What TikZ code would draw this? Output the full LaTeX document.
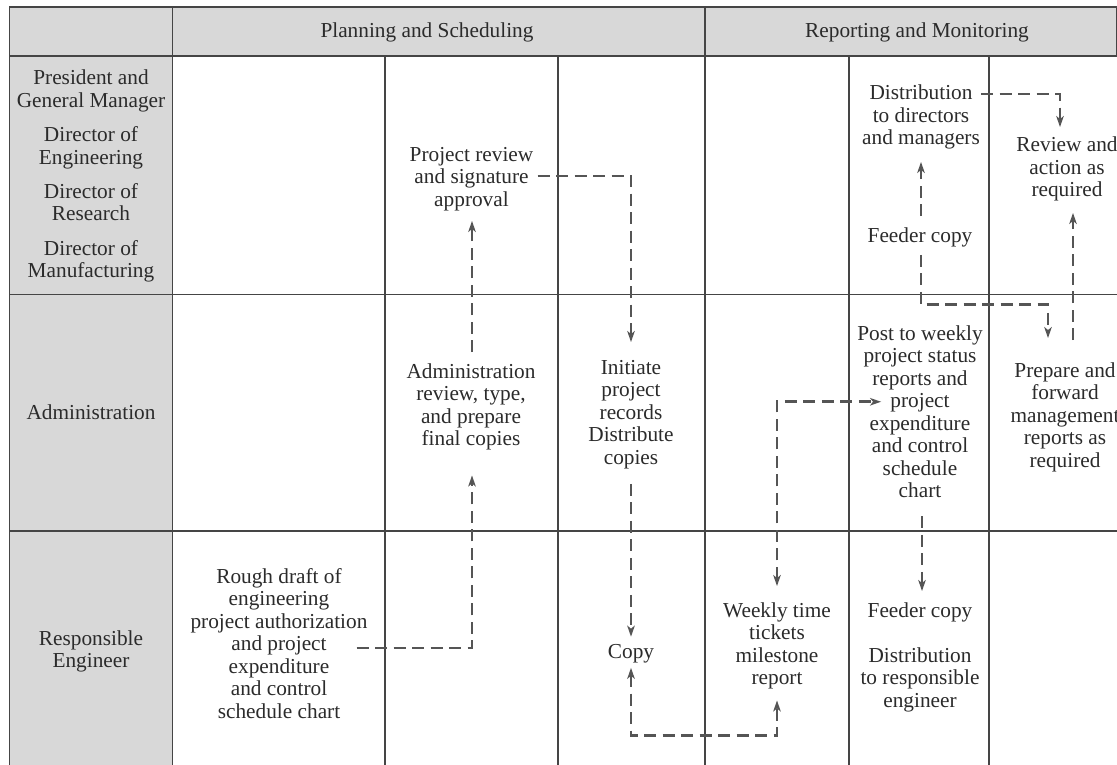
\documentclass[tikz,border=0pt]{standalone}
\usepackage{fontspec}
\setmainfont{Liberation Serif}
\usetikzlibrary{arrows.meta}
\definecolor{gfill}{HTML}{D8D8D8}
\definecolor{lcol}{HTML}{454545}
\definecolor{acol}{HTML}{555555}
\definecolor{tcol}{HTML}{2B2B2B}
\newcommand{\ml}[1]{\begin{tabular}[t]{@{}c@{}}#1\end{tabular}}
\begin{document}
\begin{tikzpicture}[x=1pt,y=-1pt,
  txt/.style={inner sep=0pt, anchor=base, text=tcol, font=\fontsize{21.3}{22.5}\selectfont},
  grid/.style={draw=lcol, line width=1.8pt},
  flow/.style={draw=acol, line width=2.9pt, dash pattern=on 12pt off 6.5pt,
    -{Stealth[length=11pt,width=7.5pt,inset=3pt]}},
  flowboth/.style={flow, {Stealth[length=11pt,width=7.5pt,inset=3pt]}-{Stealth[length=11pt,width=7.5pt,inset=3pt]}}]
\useasboundingbox (0,0) rectangle (1117,765);
\clip (0,0) rectangle (1117,765);
% fills
\fill[white] (0,0) rectangle (1117,765);
\fill[gfill] (9.5,7) rectangle (1116.5,56);
\fill[gfill] (9.5,56) rectangle (172.5,780);
% grid
\draw[grid] (9.5,780) -- (9.5,7) -- (1116.5,7) -- (1116.5,56);
\draw[grid] (9.5,56) -- (1130,56);
\draw[grid] (9.5,294.5) -- (1130,294.5);
\draw[grid] (9.5,531) -- (1130,531);
\draw[grid] (172.5,7) -- (172.5,780);
\draw[grid] (705,7) -- (705,780);
\foreach \cx in {385,558,849,989} \draw[grid] (\cx,56) -- (\cx,780);
% headers
\node[txt] (hp) at (427,38) {Planning and Scheduling};
\node[txt] (hr) at (917,38) {Reporting and Monitoring};
% row labels
\node[txt] (ra) at (91,85) {\ml{President and\\General Manager\\[11.7pt]Director of\\Engineering\\[11.7pt]Director of\\Research\\[11.7pt]Director of\\Manufacturing}};
\node[txt] (rb) at (91,419) {Administration};
\node[txt] (rc) at (91,645) {\ml{Responsible\\Engineer}};
% body texts
\node[txt] (prj) at (471.5,161) {\ml{Project review\\and signature\\approval}};
\node[txt] (dist) at (921,100) {\ml{Distribution\\to directors\\and managers}};
\node[txt] (rev) at (1067,152) {\ml{Review and\\action as\\required}};
\node[txt] (feedA) at (920,242) {Feeder copy};
\node[txt] (adm) at (471,378) {\ml{Administration\\review, type,\\and prepare\\final copies}};
\node[txt] (ini) at (631,374) {\ml{Initiate\\project\\records\\Distribute\\copies}};
\node[txt] (post) at (920,340) {\ml{Post to weekly\\project status\\reports and\\project\\expenditure\\and control\\schedule\\chart}};
\node[txt] (prep) at (1065,377) {\ml{Prepare and\\forward\\management\\reports as\\required}};
\node[txt] (rough) at (279,583) {\ml{Rough draft of\\engineering\\project authorization\\and project\\expenditure\\and control\\schedule chart}};
\node[txt] (copy) at (631,658) {Copy};
\node[txt] (week) at (777,617) {\ml{Weekly time\\tickets\\milestone\\report}};
\node[txt] (feedC) at (920,617) {Feeder copy};
\node[txt] (distC) at (920,662) {\ml{Distribution\\to responsible\\engineer}};
% connectors
\draw[flow] ([shift={(-11,2)}]rough.east) -| ([shift={(1,23)}]adm.south);
\draw[flow] ([shift={(1,-10)}]adm.north) -- ([shift={(1,8)}]adm.north |- prj.south);
\draw[flow] ([shift={(4,-3)}]prj.east) -| ([shift={(0,-16)}]ini.north);
\draw[flow] ([shift={(0,13)}]ini.south) -- ([shift={(0,-7)}]copy.north);
\draw[flowboth] ([shift={(0,5)}]copy.south) -- ++(0,68) -| ([shift={(0,9)}]week.south);
\draw[flowboth] ([shift={(0,-15)}]week.north) |- ([shift={(24,-12.5)}]post.west);
\draw[flow] ([shift={(2,12)}]post.south) -- ([shift={(2,-11)}]feedC.north);
\draw[flow] ([shift={(1,-11)}]feedA.north) -- ([shift={(1,10)}]feedA.north |- dist.south);
\draw[flow] ([shift={(1,8)}]feedA.south) -- ++(0,50) -| ([shift={(-17,-23)}]prep.north);
\draw[flow] ([shift={(8,-21)}]prep.north) -- ([shift={(8,9)}]prep.north |- rev.south);
\draw[flow] ([shift={(1,10)}]dist.north east) -| ([shift={(-7,-9)}]rev.north);
\end{tikzpicture}
\end{document}
